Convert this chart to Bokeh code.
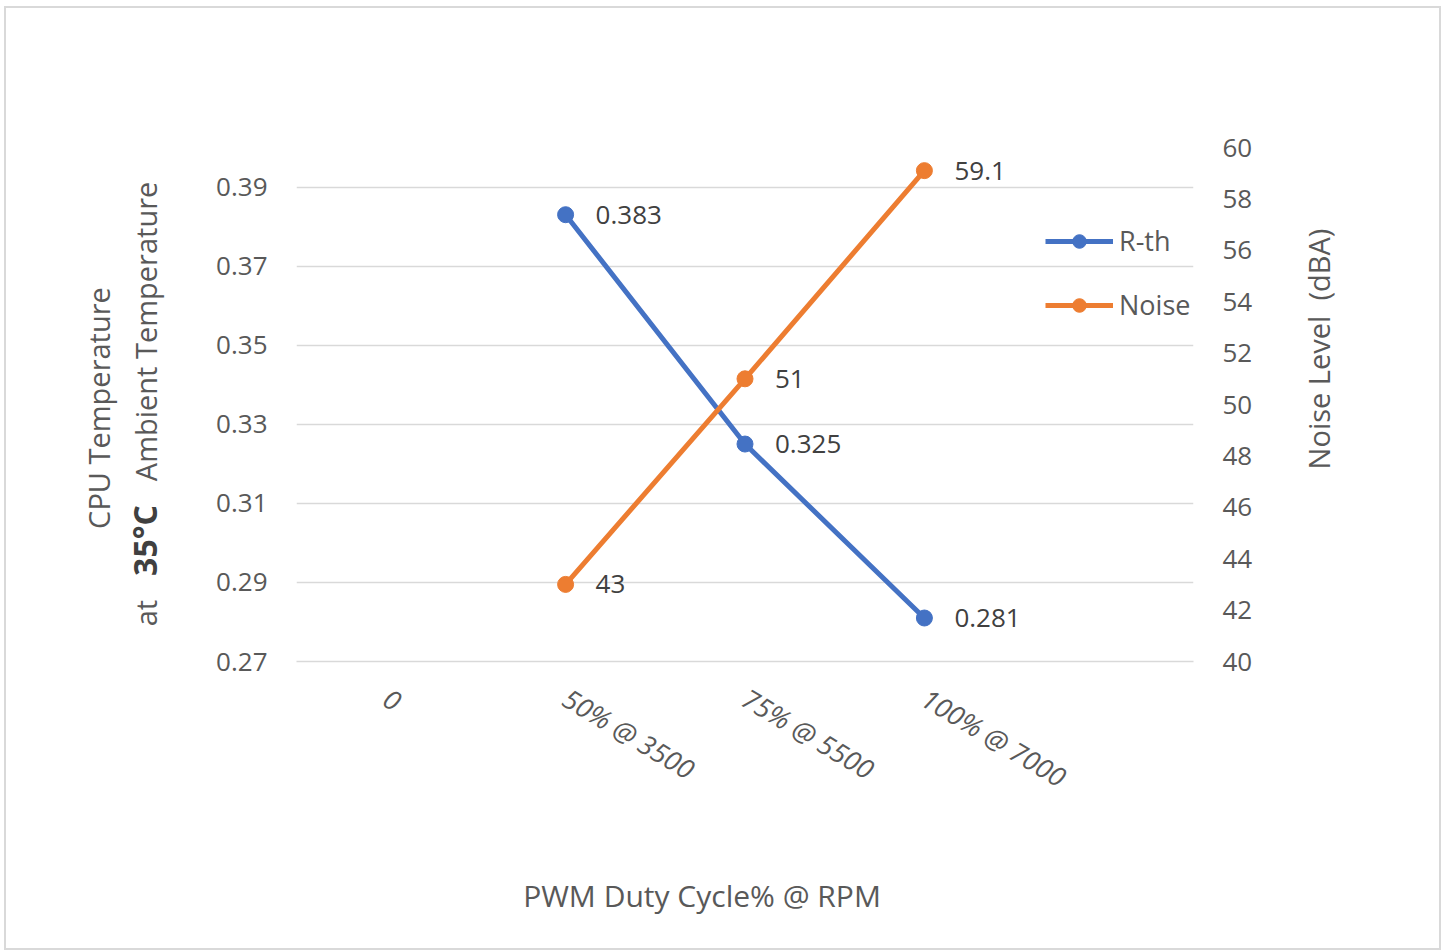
from bokeh.plotting import figure
from bokeh.models import Range1d, FactorRange, LinearAxis, FixedTicker, Legend, LegendItem, ColumnDataSource, Div
from bokeh.layouts import row, column
from bokeh.core.properties import value
from bokeh.embed import file_html
from bokeh.resources import INLINE

# ---- data ----
categories = ["0", "50% @ 3500", "75% @ 5500", "100% @ 7000", " "]
series_x = ["50% @ 3500", "75% @ 5500", "100% @ 7000"]
rth_values = [0.383, 0.325, 0.281]
noise_values = [43, 51, 59.1]
left_ticks = [0.27, 0.29, 0.31, 0.33, 0.35, 0.37, 0.39]
right_ticks = [40, 42, 44, 46, 48, 50, 52, 54, 56, 58, 60]
y_title_line1 = "CPU Temperature"
y_title_line2 = ("at", "35°C", "Ambient Temperature")
y2_title = "Noise Level  (dBA)"
x_title = "PWM Duty Cycle% @ RPM"

BLUE = "#4472C4"
ORANGE = "#ED7D31"
GRID = "#d9d9d9"
TXT = "#595959"
LBL = "#404040"
FONT = "Open Sans"
TICK = "26px"

p = figure(width=1105, height=842, output_backend="svg", toolbar_location=None,
           x_range=FactorRange(*categories, range_padding=0),
           y_range=Range1d(0.27, 0.40),
           min_border_left=118, min_border_right=90, min_border_top=139, min_border_bottom=189,
           margin=0)
p.outline_line_color = None
p.background_fill_color = "white"
p.border_fill_color = "white"
p.extra_y_ranges = {"noise": Range1d(40, 60)}

# grid
p.xgrid.grid_line_color = None
p.ygrid.grid_line_color = GRID
p.ygrid.grid_line_width = 1.5
p.ygrid.ticker = FixedTicker(ticks=left_ticks)

# left axis
ya = p.yaxis[0]
ya.ticker = FixedTicker(ticks=left_ticks)
ya.axis_line_color = None
ya.major_tick_line_color = None
ya.minor_tick_line_color = None
ya.major_tick_out = 0
ya.minor_tick_out = 0
ya.major_label_standoff = 29
ya.major_label_text_font = FONT
ya.major_label_text_font_size = TICK
ya.major_label_text_color = TXT

# right axis
ra = LinearAxis(y_range_name="noise", ticker=FixedTicker(ticks=right_ticks))
ra.axis_line_color = None
ra.major_tick_line_color = None
ra.minor_tick_line_color = None
ra.major_tick_out = 0
ra.minor_tick_out = 0
ra.major_label_standoff = 29
ra.major_label_text_font = FONT
ra.major_label_text_font_size = TICK
ra.major_label_text_color = TXT
p.add_layout(ra, "right")

# bottom axis
xa = p.xaxis[0]
xa.axis_line_color = GRID
xa.axis_line_width = 1.5
xa.major_tick_line_color = None
xa.minor_tick_line_color = None
xa.major_label_orientation = -0.54
xa.major_label_standoff = 28
xa.major_label_text_font = FONT
xa.major_label_text_font_size = "27px"
xa.major_label_text_font_style = "italic"
xa.major_label_text_color = TXT

# series
src_r = ColumnDataSource(dict(x=series_x, y=rth_values, t=[f"{v:g}" for v in rth_values]))
src_n = ColumnDataSource(dict(x=series_x, y=noise_values, t=[f"{v:g}" for v in noise_values]))

r1 = p.line("x", "y", source=src_r, line_color=BLUE, line_width=5)
r1m = p.scatter("x", "y", source=src_r, size=16, fill_color=BLUE, line_color=BLUE)
r2 = p.line("x", "y", source=src_n, line_color=ORANGE, line_width=5, y_range_name="noise")
r2m = p.scatter("x", "y", source=src_n, size=16, fill_color=ORANGE, line_color=ORANGE, y_range_name="noise")

# data labels
p.text("x", "y", text="t", source=src_r, x_offset=30, text_baseline="middle",
       text_font=value(FONT), text_font_size="26px", text_color=LBL)
p.text("x", "y", text="t", source=src_n, x_offset=30, text_baseline="middle",
       text_font=value(FONT), text_font_size="26px", text_color=LBL, y_range_name="noise")

# legend
legend = Legend(items=[LegendItem(label="R-th", renderers=[r1, r1m]),
                       LegendItem(label="Noise", renderers=[r2, r2m])],
                location=(749, 338), glyph_width=68, glyph_height=34, spacing=27,
                label_standoff=6, padding=0, margin=0,
                background_fill_alpha=0, border_line_color=None,
                label_text_font=FONT, label_text_font_size="27px", label_text_color=TXT)
p.add_layout(legend)

# ---- axis titles as HTML (rich text: bold part) ----
def rot(cx, cy, inner, size=29, color=TXT, angle=-90):
    return (f'<div style="position:absolute;left:{cx}px;top:{cy}px;'
            f'transform:translate(-50%,-50%) rotate({angle}deg);white-space:pre;'
            f"font-family:'Open Sans';font-size:{size}px;line-height:1;color:{color};\">{inner}</div>")

left_html = ('<div style="position:relative;width:172px;height:842px;">'
             + rot(92, 400, y_title_line1)
             + rot(139, 396, f'{y_title_line2[0]}<b style="font-size:32px;color:{LBL};margin:0 24px;">'
                            f'{y_title_line2[1]}</b>{y_title_line2[2]}')
             + '</div>')
right_html = ('<div style="position:relative;width:156px;height:842px;">'
              + rot(35, 341, y2_title) + '</div>')
bottom_html = ('<div style="position:relative;width:1433px;height:98px;">'
               + rot(696, 46, x_title, size=30, angle=0) + '</div>')

div_left = Div(text=left_html, width=172, height=842, margin=0, styles={"background": "white"})
div_right = Div(text=right_html, width=156, height=842, margin=0, styles={"background": "white"})
div_bottom = Div(text=bottom_html, width=1433, height=98, margin=0, styles={"background": "white"})

layout = column(row(div_left, p, div_right, spacing=0, margin=0), div_bottom, spacing=0, margin=0,
                styles={"margin-left": "6px", "margin-top": "8px",
                        "outline": "2px solid #d9d9d9", "background": "white"})

open("out.html", "w").write(file_html(layout, INLINE))
